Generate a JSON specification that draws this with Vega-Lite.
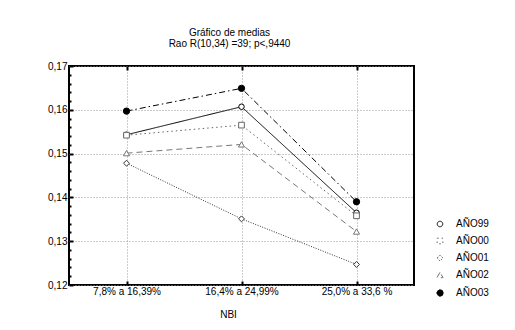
{
  "$schema": "https://vega.github.io/schema/vega-lite/v6.json",
  "width": 345,
  "height": 219,
  "autosize": {"type": "none"},
  "padding": {"left": 69, "top": 66, "right": 101, "bottom": 45},
  "background": "white",
  "title": {
    "text": "Gráfico de medias",
    "subtitle": "Rao R(10,34) =39; p<,9440",
    "frame": "group",
    "anchor": "middle",
    "dx": -12,
    "offset": 12,
    "subtitlePadding": 1,
    "font": "Liberation Sans",
    "fontSize": 10,
    "fontWeight": "normal",
    "color": "black",
    "subtitleFont": "Liberation Sans",
    "subtitleFontSize": 10,
    "subtitleColor": "black"
  },
  "config": {
    "view": {"stroke": "black", "strokeWidth": 2},
    "axis": {
      "labelFont": "Liberation Sans",
      "labelFontSize": 10,
      "labelColor": "black",
      "titleFont": "Liberation Sans",
      "titleFontSize": 10,
      "titleFontWeight": "normal",
      "titleColor": "black"
    }
  },
  "data": {
    "values": [
      {"nbi": "7,8% a 16,39%", "serie": "AÑO99", "media": 0.1543},
      {"nbi": "16,4% a 24,99%", "serie": "AÑO99", "media": 0.1607},
      {"nbi": "25,0% a 33,6 %", "serie": "AÑO99", "media": 0.1365},
      {"nbi": "7,8% a 16,39%", "serie": "AÑO00", "media": 0.1542},
      {"nbi": "16,4% a 24,99%", "serie": "AÑO00", "media": 0.1565},
      {"nbi": "25,0% a 33,6 %", "serie": "AÑO00", "media": 0.1358},
      {"nbi": "7,8% a 16,39%", "serie": "AÑO01", "media": 0.1478},
      {"nbi": "16,4% a 24,99%", "serie": "AÑO01", "media": 0.1351},
      {"nbi": "25,0% a 33,6 %", "serie": "AÑO01", "media": 0.1247},
      {"nbi": "7,8% a 16,39%", "serie": "AÑO02", "media": 0.1501},
      {"nbi": "16,4% a 24,99%", "serie": "AÑO02", "media": 0.1521},
      {"nbi": "25,0% a 33,6 %", "serie": "AÑO02", "media": 0.1322},
      {"nbi": "7,8% a 16,39%", "serie": "AÑO03", "media": 0.1597},
      {"nbi": "16,4% a 24,99%", "serie": "AÑO03", "media": 0.1649},
      {"nbi": "25,0% a 33,6 %", "serie": "AÑO03", "media": 0.139}
    ]
  },
  "layer": [
    {
      "mark": {"type": "line"},
      "encoding": {
        "x": {
          "field": "nbi", "type": "nominal", "sort": null,
          "scale": {"type": "point", "padding": 0.5},
          "axis": {
            "orient": "bottom", "title": "NBI", "titleX": 159, "titleY": 32, "titleBaseline": "alphabetic",
            "labelAngle": 0, "labelPadding": 5, "tickSize": -4, "tickWidth": 2, "tickColor": "black",
            "domain": false, "grid": true, "gridDash": [1, 2], "gridColor": "#999"
          }
        },
        "y": {
          "field": "media", "type": "quantitative",
          "scale": {"domain": [0.12, 0.17], "nice": false, "zero": false},
          "axis": {
            "orient": "left", "title": null, "tickCount": 40,
            "values": [0.12,0.122,0.124,0.126,0.128,0.13,0.132,0.134,0.136,0.138,0.14,0.142,0.144,0.146,0.148,0.15,0.152,0.154,0.156,0.158,0.16,0.162,0.164,0.166,0.168,0.17],
            "labelExpr": "round(datum.value*1000) % 10 == 0 ? replace(format(datum.value, '.2f'), '.', ',') : ''",
            "labelOverlap": false,
            "labelPadding": 6,
            "tickSize": {"condition": {"test": "round(datum.value*1000) % 10 == 0", "value": -4}, "value": -2},
            "tickWidth": 2, "tickColor": "black",
            "domain": false, "grid": true, "gridDash": [1, 2], "gridColor": "#999",
            "gridOpacity": {"condition": {"test": "round(datum.value*1000) % 10 == 0", "value": 1}, "value": 0}
          }
        },
        "stroke": {"field": "serie", "type": "nominal",
          "scale": {"domain": ["AÑO99","AÑO00","AÑO01","AÑO02","AÑO03"], "range": ["#000000","#666666","#333333","#777777","#000000"]},
          "legend": {
            "orient": "none", "legendX": 366, "legendY": 153, "title": null,
            "symbolSize": 100, "labelOffset": 11, "rowPadding": 7,
            "labelFont": "Liberation Sans", "labelFontSize": 10, "labelColor": "black",
            "encode": {
              "symbols": {
                "update": {
                  "shape": {"signal": "datum.value == 'AÑO99' ? 'M-1.6,0H-0.6M0.6,0H1.6M-0.6,0A0.6,0.6 0 1,1 0.6,0A0.6,0.6 0 1,1 -0.6,0Z' : datum.value == 'AÑO00' ? 'M-1.6,0H-1.2M-0.9,0H-0.6M0.6,0H1.6M-0.6,-0.6H0.6V0.6H-0.6Z' : datum.value == 'AÑO01' ? 'M-1.6,0H-1.4M-1.1,0H-0.9M0.9,0H1.1M1.4,0H1.6M0,-0.45L0.45,0L0,0.45L-0.45,0Z' : datum.value == 'AÑO02' ? 'M-1.6,0H-0.5M0.5,0H1.2M0,-0.45L0.45,0.35H-0.45Z' : 'M-1.6,0H1.6M-0.7,0A0.7,0.7 0 1,1 0.7,0A0.7,0.7 0 1,1 -0.7,0Z'"},
                  "fill": {"signal": "datum.value == 'AÑO03' ? 'black' : 'white'"},
                  "stroke": {"signal": "datum.value == 'AÑO00' ? '#444444' : datum.value == 'AÑO01' ? '#555555' : datum.value == 'AÑO02' ? '#666666' : 'black'"},
                  "strokeWidth": {"signal": "datum.value == 'AÑO03' ? 2 : 1"},
                  "strokeDash": {"value": [1, 0]},
                  "size": {"value": 100},
                  "opacity": {"value": 1}
                }
              }
            }
          }
        },
        "strokeDash": {"field": "serie", "type": "nominal",
          "scale": {"domain": ["AÑO99","AÑO00","AÑO01","AÑO02","AÑO03"], "range": [[1,0],[1.5,3],[1,1.5],[6,4],[6,3,1.5,3]]}},
        "strokeWidth": {"field": "serie", "type": "nominal",
          "scale": {"domain": ["AÑO99","AÑO00","AÑO01","AÑO02","AÑO03"], "range": [1,1,1,1,1.5]}}
      }
    },
    {
      "mark": {"type": "point", "filled": true, "opacity": 1, "strokeWidth": 1},
      "encoding": {
        "x": {"field": "nbi", "type": "nominal", "sort": null,
          "axis": {"orient": "top", "title": null, "labels": false, "domain": false, "grid": false,
            "tickSize": -4, "tickWidth": 2, "tickColor": "black"}},
        "y": {"field": "media", "type": "quantitative"},
        "shape": {"field": "serie", "type": "nominal",
          "scale": {"domain": ["AÑO99","AÑO00","AÑO01","AÑO02","AÑO03"], "range": ["circle","square","diamond","triangle-up","circle"]}},
        "fill": {"field": "serie", "type": "nominal",
          "scale": {"domain": ["AÑO99","AÑO00","AÑO01","AÑO02","AÑO03"], "range": ["white","white","white","white","black"]}},
        "stroke": {"field": "serie", "type": "nominal"},
        "size": {"field": "serie", "type": "nominal",
          "scale": {"domain": ["AÑO99","AÑO00","AÑO01","AÑO02","AÑO03"], "range": [30, 40, 14, 16, 40]}}
      }
    }
  ]
}
